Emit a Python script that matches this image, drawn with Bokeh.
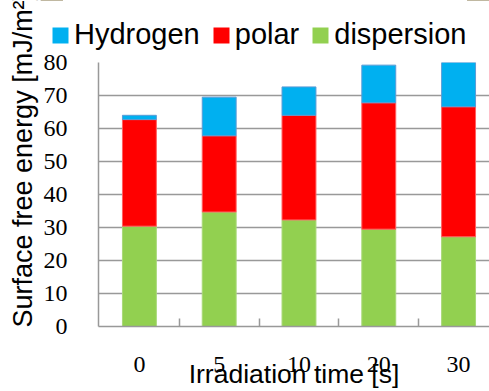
import math
from bokeh.plotting import figure
from bokeh.layouts import row, column
from bokeh.models import (Range1d, FixedTicker, Legend, LegendItem, Label, ColumnDataSource)
from bokeh.embed import file_html
from bokeh.resources import INLINE

# ---- data ----
times = ["0", "5", "10", "20", "30"]
dispersion = [30.4, 34.7, 32.3, 29.5, 27.2]
polar = [32.3, 23.1, 31.7, 38.3, 39.4]
hydrogen = [1.3, 11.7, 8.6, 11.4, 13.4]
y_ticks = [0, 10, 20, 30, 40, 50, 60, 70, 80]
series_keys = ["hydrogen", "polar", "dispersion"]
series_names = ["Hydrogen", "polar", "dispersion"]
series_colors = ["#00B0F0", "#FF0000", "#92D050"]

xs = list(range(len(times)))
src = ColumnDataSource(dict(x=xs, dispersion=dispersion, polar=polar, hydrogen=hydrogen))

GRID = "#999999"


def bare(fig):
    fig.outline_line_color = None
    fig.background_fill_color = "white"
    fig.border_fill_color = "white"
    fig.xgrid.visible = False
    fig.ygrid.visible = False
    if "frame_align" in fig.properties():
        fig.frame_align = False
    return fig


# ---- left strip: y-axis title ----
fa = bare(figure(width=40, height=391, output_backend="svg", toolbar_location=None,
                 x_axis_location=None, y_axis_location=None, title=None,
                 min_border=0, x_range=Range1d(0, 1), y_range=Range1d(0, 1)))
fa.add_layout(Label(x=22, y=64, x_units="screen", y_units="screen", angle=math.pi / 2,
                    text="Surface free energy [mJ/m²]", text_font="Liberation Sans",
                    text_font_size="27px", text_color="black",
                    text_align="left", text_baseline="alphabetic"))

# ---- top strip: legend ----
fl = bare(figure(width=449, height=50, output_backend="svg", toolbar_location=None,
                 x_axis_location=None, y_axis_location=None, title=None,
                 min_border=0, x_range=Range1d(0, 1), y_range=Range1d(-2, -1)))
leg_rs = [fl.vbar(x="x", top=k, width=0.1, source=src, color=c, line_color=None)
          for k, c in zip(series_keys, series_colors)]
legend = Legend(items=[LegendItem(label=n, renderers=[r]) for n, r in zip(series_names, leg_rs)],
                orientation="horizontal", location=(10, -1),
                glyph_width=20, glyph_height=20, label_standoff=4, spacing=11,
                padding=0, margin=0, border_line_color=None, background_fill_alpha=0,
                label_text_font="Liberation Sans", label_text_font_size="29px",
                label_text_color="black")
fl.add_layout(legend)

# ---- main plot ----
p = bare(figure(width=449, height=341, output_backend="svg", toolbar_location=None,
                x_range=Range1d(-0.5125, 4.3875), y_range=Range1d(0, 80),
                min_border_left=57, min_border_right=0, min_border_top=12, min_border_bottom=64))

p.vbar_stack(["dispersion", "polar", "hydrogen"], x="x", width=0.425, source=src,
             color=["#92D050", "#FF0000", "#00B0F0"],
             line_color=["#a8d878", "#ff6060", "#5b9bd5"], line_width=1)

p.ygrid.visible = True
p.ygrid.grid_line_color = GRID
p.ygrid.grid_line_width = 1.5
p.ygrid.ticker = FixedTicker(ticks=y_ticks)

xa = p.xaxis[0]
xa.ticker = FixedTicker(ticks=xs, minor_ticks=[i + 0.5 for i in xs[:-1]])
xa.major_label_overrides = {i: t for i, t in zip(xs, times)}
xa.major_tick_line_color = None
xa.minor_tick_line_color = GRID
xa.minor_tick_line_width = 1.5
xa.minor_tick_in = 8
xa.minor_tick_out = 0
xa.axis_line_color = GRID
xa.axis_line_width = 1.5
xa.major_label_text_font = "Liberation Serif"
xa.major_label_text_font_size = "24px"
xa.major_label_text_color = "black"
xa.major_label_standoff = 24
xa.axis_label = "Irradiation time [s]"
xa.axis_label_text_font = "Liberation Sans"
xa.axis_label_text_font_size = "26.5px"
xa.axis_label_text_font_style = "normal"
xa.axis_label_text_color = "black"
xa.axis_label_standoff = -16

ya = p.yaxis[0]
ya.ticker = FixedTicker(ticks=y_ticks)
ya.major_tick_line_color = None
ya.minor_tick_line_color = None
ya.axis_line_color = GRID
ya.axis_line_width = 1.5
ya.major_label_text_font = "Liberation Serif"
ya.major_label_text_font_size = "24px"
ya.major_label_text_color = "black"
ya.major_label_standoff = 25

layout = row(fa, column(fl, p))
open("out.html", "w").write(file_html(layout, INLINE))
